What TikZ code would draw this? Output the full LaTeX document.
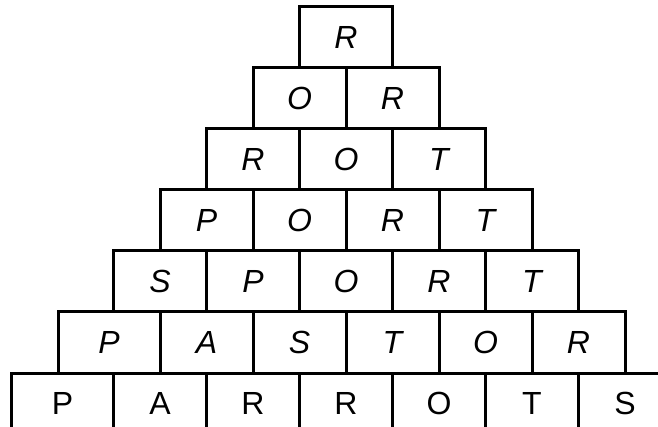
\documentclass[tikz,border=0pt]{standalone}
\usepackage{fontspec}
\setmainfont{Liberation Sans}
\begin{document}
\begin{tikzpicture}[x=1pt,y=-1pt,
  cell/.style={draw=black, line width=3pt, minimum height=61pt, inner sep=0pt,
    outer sep=0pt, font=\fontsize{32}{38}\selectfont},
  slanted/.style={cell, font=\fontsize{32}{38}\selectfont\itshape}]
\useasboundingbox (0,0) rectangle (658,427);
\clip (0,0) rectangle (658,427);
\foreach \k/\word in {1/{R},2/{O,R},3/{R,O,T},4/{P,O,R,T},5/{S,P,O,R,T},6/{P,A,S,T,O,R}}{
  \foreach \l [count=\j] in \word {
    \pgfmathsetmacro\ext{(\k>5)*(\j==1)*9}
    \pgfmathsetmacro\cx{346-46.5*\k+93*(\j-0.5)-\ext/2}
    \pgfmathsetmacro\cy{37.5+61*(\k-1)}
    \pgfmathsetmacro\w{93+\ext}
    \node[slanted, minimum width=\w pt] (r\k-\j) at (\cx,\cy) {\l};
  }
}
\foreach \l [count=\j] in {P,A,R,R,O,T,S}{
  \pgfmathsetmacro\ext{(\j==1)*9}
  \pgfmathsetmacro\cx{346-46.5*7+93*(\j-0.5)-\ext/2}
  \pgfmathsetmacro\w{93+\ext}
  \node[cell, minimum width=\w pt] (r7-\j) at (\cx,403.5) {\l};
}
\end{tikzpicture}
\end{document}
